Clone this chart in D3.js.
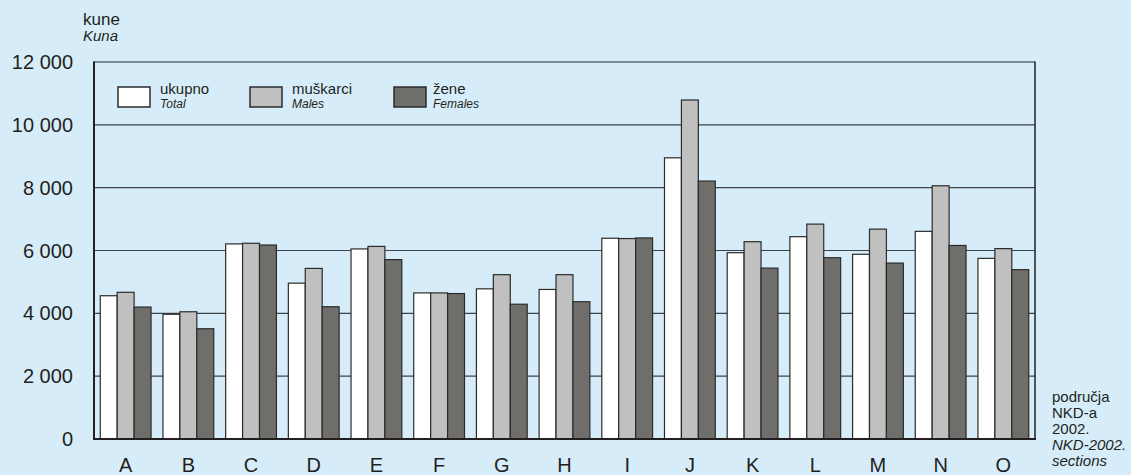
<!DOCTYPE html>
<html>
<head>
<meta charset="utf-8">
<script src="https://cdn.jsdelivr.net/npm/d3@7"></script>
<style>
  html, body { margin: 0; padding: 0; background: #d6edf9; }
  svg { display: block; font-family: "Liberation Sans", Arial, sans-serif; }
</style>
</head>
<body>
<svg id="chart" width="1131" height="475"></svg>
<script>
var sections = ["A","B","C","D","E","F","G","H","I","J","K","L","M","N","O"];
var total   = [4560, 3970, 6210, 4960, 6050, 4650, 4780, 4760, 6390, 8950, 5930, 6440, 5880, 6610, 5750];
var males   = [4670, 4050, 6230, 5430, 6130, 4650, 5230, 5230, 6380, 10790, 6280, 6840, 6680, 8060, 6060];
var females = [4200, 3510, 6175, 4210, 5710, 4630, 4290, 4370, 6400, 8210, 5440, 5770, 5600, 6160, 5390];
var yTicks  = [0, 2000, 4000, 6000, 8000, 10000, 12000];
var seriesKeys   = ["total", "males", "females"];
var seriesLabels = [["ukupno", "Total"], ["muškarci", "Males"], ["žene", "Females"]];
var colors = {total: "#ffffff", males: "#c0c0c0", females: "#706e6b"};

function drawChart(){
    var plotLeft = 94, plotRight = 1035, plotTop = 62, plotBottom = 439;

    var svg = d3.select("#chart");

    var x = d3.scaleBand()
        .domain(sections)
        .range([plotLeft, plotRight])
        .paddingInner(0.19)
        .paddingOuter(0.1);

    var xSub = d3.scaleBand()
        .domain(seriesKeys)
        .range([0, x.bandwidth()]);

    var y = d3.scaleLinear()
        .domain([0, 12000])
        .range([plotBottom, plotTop]);

    var fmt = function(d){ return d3.format(",")(d).replace(",", " "); };

    // grid lines
    svg.selectAll(".grid")
        .data(yTicks.filter(d => d > 0 && d < 12000))
        .enter()
        .append("line")
        .attr("class", "grid")
        .attr("x1", plotLeft).attr("x2", plotRight)
        .attr("y1", d => y(d)).attr("y2", d => y(d))
        .attr("stroke", "#3c4448")
        .attr("stroke-width", 1.2);

    // top frame line
    svg.append("line")
        .attr("x1", plotLeft).attr("x2", plotRight)
        .attr("y1", y(12000)).attr("y2", y(12000))
        .attr("stroke", "#5e6a70")
        .attr("stroke-width", 1.5);

    // y tick labels
    svg.selectAll(".ylab")
        .data(yTicks)
        .enter()
        .append("text")
        .attr("class", "ylab")
        .attr("x", 73)
        .attr("y", d => y(d) + 7)
        .attr("text-anchor", "end")
        .attr("fill", "#231f20")
        .style("font-size", "20px")
        .text(fmt);

    // bars
    var rows = sections.map(function(s, i){
        return {section: s, total: total[i], males: males[i], females: females[i]};
    });

    var groups = svg.selectAll(".grp")
        .data(rows)
        .enter()
        .append("g")
        .attr("class", "grp")
        .attr("transform", d => "translate(" + x(d.section) + ",0)");

    groups.selectAll("rect")
        .data(d => seriesKeys.map(k => ({key: k, value: d[k]})))
        .enter()
        .append("rect")
        .attr("x", d => xSub(d.key))
        .attr("width", xSub.bandwidth())
        .attr("y", d => y(d.value))
        .attr("height", d => plotBottom - y(d.value))
        .attr("fill", d => colors[d.key])
        .attr("stroke", "#2b2b2b")
        .attr("stroke-width", 1.2);

    // frame: left, right, bottom
    svg.append("line")
        .attr("x1", plotLeft).attr("x2", plotLeft)
        .attr("y1", plotTop - 0.5).attr("y2", plotBottom + 1)
        .attr("stroke", "#231f20").attr("stroke-width", 2);
    svg.append("line")
        .attr("x1", plotRight).attr("x2", plotRight)
        .attr("y1", plotTop - 0.5).attr("y2", plotBottom + 1)
        .attr("stroke", "#231f20").attr("stroke-width", 1.5);
    svg.append("line")
        .attr("x1", plotLeft - 1).attr("x2", plotRight + 1)
        .attr("y1", plotBottom).attr("y2", plotBottom)
        .attr("stroke", "#231f20").attr("stroke-width", 2);

    // x labels
    svg.selectAll(".xlab")
        .data(sections)
        .enter()
        .append("text")
        .attr("class", "xlab")
        .attr("x", d => x(d) + x.bandwidth() / 2)
        .attr("y", 472)
        .attr("text-anchor", "middle")
        .attr("fill", "#231f20")
        .style("font-size", "20px")
        .text(d => d);

    // y axis title
    svg.append("text").attr("x", 83).attr("y", 25)
        .attr("fill", "#231f20").style("font-size", "17px").text("kune");
    svg.append("text").attr("x", 83).attr("y", 41)
        .attr("fill", "#231f20").style("font-size", "15px").style("font-style", "italic").text("Kuna");

    // x axis title
    var xTitle = [["područja", "normal"], ["NKD-a", "normal"], ["2002.", "normal"], ["NKD-2002.", "italic"], ["sections", "italic"]];
    svg.selectAll(".xtitle")
        .data(xTitle)
        .enter()
        .append("text")
        .attr("class", "xtitle")
        .attr("x", 1052)
        .attr("y", (d, i) => 402 + i * 16)
        .attr("fill", "#231f20")
        .style("font-size", "15px")
        .style("font-style", d => d[1])
        .text(d => d[0]);

    // legend
    var legendX = [118, 250, 394];
    var leg = svg.selectAll(".leg")
        .data(seriesKeys)
        .enter()
        .append("g")
        .attr("class", "leg")
        .attr("transform", (d, i) => "translate(" + legendX[i] + ",87)");
    leg.append("rect")
        .attr("width", 32).attr("height", 20)
        .attr("fill", d => colors[d])
        .attr("stroke", "#2b2b2b")
        .attr("stroke-width", 1.5);
    leg.append("text")
        .attr("x", (d, i) => i == 2 ? 39 : 42)
        .attr("y", 7)
        .attr("fill", "#231f20")
        .style("font-size", "15px")
        .text((d, i) => seriesLabels[i][0]);
    leg.append("text")
        .attr("x", (d, i) => i == 2 ? 39 : 42)
        .attr("y", 21)
        .attr("fill", "#231f20")
        .style("font-size", "12px")
        .style("font-style", "italic")
        .text((d, i) => seriesLabels[i][1]);
}

drawChart();
</script>
</body>
</html>
